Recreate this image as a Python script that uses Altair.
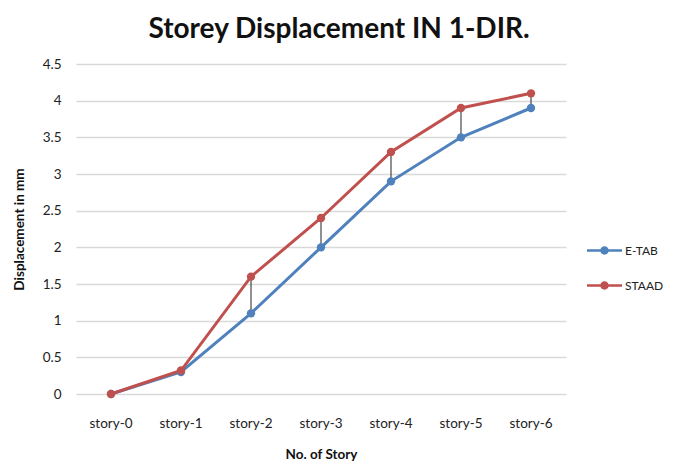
import altair as alt
import pandas as pd

stories = ["story-0", "story-1", "story-2", "story-3", "story-4", "story-5", "story-6"]
etab = [0, 0.3, 1.1, 2.0, 2.9, 3.5, 3.9]
staad = [0, 0.32, 1.6, 2.4, 3.3, 3.9, 4.1]
series = ["E-TAB", "STAAD"]
colors = ["#4F81BD", "#C0504D"]
y_ticks = [0, 0.5, 1, 1.5, 2, 2.5, 3, 3.5, 4, 4.5]

long_rows = []
for s, vals in zip(series, [etab, staad]):
    for st, v in zip(stories, vals):
        long_rows.append({"story": st, "series": s, "value": v})
long_df = pd.DataFrame(long_rows)
wide_df = pd.DataFrame({"story": stories, "etab": etab, "staad": staad})
wide_df = wide_df[wide_df["story"] != "story-0"]

FONT = "Lato"

x_enc = alt.X("story:N", sort=stories, scale=alt.Scale(paddingInner=0, paddingOuter=0),
              axis=alt.Axis(title="No. of Story", labelAngle=0, ticks=False, domain=False,
                            grid=False, labelPadding=22, titlePadding=18))
y_enc_axis = alt.Axis(title="Displacement in mm", values=y_ticks, format="~g", ticks=False,
                      domain=False, grid=True, labelPadding=15, titlePadding=16)
y_scale = alt.Scale(domain=[0, 4.5], nice=False)
color_scale = alt.Scale(domain=series, range=colors)

legend_path = ("M-1,-0.07L1,-0.07L1,0.07L-1,0.07Z "
               "M0.24,0A0.24,0.24 0 1 1 -0.24,0A0.24,0.24 0 1 1 0.24,0Z")
color_enc = alt.Color("series:N", scale=color_scale,
                      legend=alt.Legend(title=None, orient="none", legendX=511, legendY=169,
                                        symbolType=legend_path, symbolSize=1225,
                                        symbolStrokeWidth=0,
                                        rowPadding=11, labelOffset=3))

lines = alt.Chart(long_df).mark_line(strokeWidth=3).encode(
    x=x_enc,
    y=alt.Y("value:Q", scale=y_scale, axis=y_enc_axis),
    color=color_enc,
)

points = alt.Chart(long_df).mark_circle(size=70, opacity=1).encode(
    x=x_enc,
    y=alt.Y("value:Q", scale=y_scale, axis=y_enc_axis),
    color=color_enc,
)

rules = alt.Chart(wide_df).mark_rule(color="#222", strokeWidth=1).encode(
    x=x_enc,
    y=alt.Y("etab:Q", scale=y_scale, axis=y_enc_axis),
    y2="staad:Q",
)

chart = alt.layer(rules, lines, points).properties(
    width=490, height=330,
    autosize=alt.AutoSizeParams(type="none"),
    padding={"left": 68, "top": 56, "right": 99, "bottom": 72},
    title=alt.TitleParams("Storey Displacement IN 1-DIR.", fontSize=28, fontWeight="bold",
                          font=FONT, color="#111", anchor="middle", offset=13, dx=18),
).configure_view(stroke=None).configure_axis(
    labelFont=FONT, titleFont=FONT, labelFontSize=13.5, titleFontSize=13.5,
    titleFontWeight="bold", labelColor="#222", titleColor="#111",
    gridColor="#D9D9D9", gridWidth=1.3,
).configure_legend(
    labelFont=FONT, labelFontSize=12, labelColor="#222",
)

chart.save("out.html", embed_options={"renderer": "svg", "actions": False})
